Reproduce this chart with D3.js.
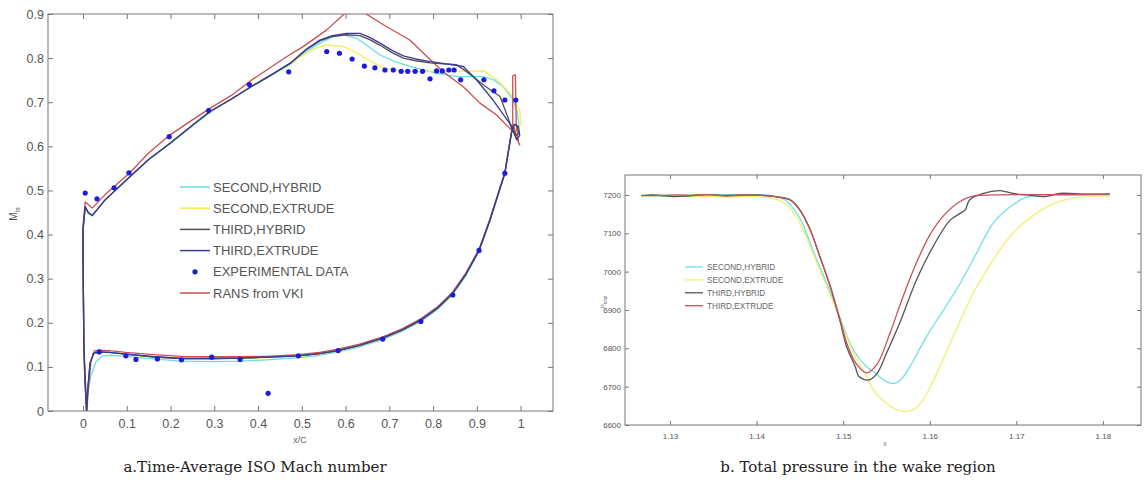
<!DOCTYPE html>
<html>
<head>
<meta charset="utf-8">
<script src="https://cdn.jsdelivr.net/npm/d3@7/dist/d3.min.js"></script>
<style>
  html, body { margin: 0; padding: 0; background: #fff; }
  svg { display: block; }
  .tick text { fill: #555; font-family: "Liberation Sans", Arial, sans-serif; }
  .axis path { display: none; }
  .axis line { stroke: #777; }
</style>
</head>
<body>
<svg id="chart" width="1146" height="485"></svg>
<script>
// ---- chart a: ISO Mach number around the blade (x/C, M_is), each loop pressure side -> LE -> suction side
const leftXTicks = [0, 0.1, 0.2, 0.3, 0.4, 0.5, 0.6, 0.7, 0.8, 0.9, 1];
const leftYTicks = [0, 0.1, 0.2, 0.3, 0.4, 0.5, 0.6, 0.7, 0.8, 0.9];
const leftSeriesNames = ['SECOND,HYBRID', 'SECOND,EXTRUDE', 'THIRD,HYBRID', 'THIRD,EXTRUDE', 'EXPERIMENTAL DATA', 'RANS from VKI'];

const secondHybrid = [
  [0.983,0.645],[0.979,0.630],[0.964,0.539],[0.945,0.478],[0.93,0.431],[0.905,0.362],[0.875,0.307],[0.845,0.264],[0.81,0.230],
  [0.772,0.203],[0.73,0.181],[0.685,0.162],[0.63,0.145],[0.583,0.134],[0.54,0.126],[0.492,0.121],[0.42,0.116],[0.36,0.113],
  [0.30,0.112],[0.225,0.113],[0.16,0.118],[0.098,0.124],[0.06,0.126],[0.045,0.125],[0.03,0.112],[0.018,0.08],[0.011,0.04],
  [0.008,0.0],[0.004,0.08],[0.002,0.15],[0.001,0.25],[0.0,0.35],[0.0,0.41],[0.005,0.460],[0.012,0.448],[0.021,0.443],
  [0.05,0.478],[0.107,0.531],[0.15,0.570],[0.199,0.606],[0.25,0.646],[0.29,0.677],[0.34,0.707],[0.382,0.733],[0.43,0.760],
  [0.473,0.785],[0.51,0.815],[0.541,0.834],[0.57,0.848],[0.595,0.853],[0.625,0.845],[0.65,0.828],[0.679,0.807],[0.71,0.793],
  [0.747,0.781],[0.78,0.773],[0.808,0.766],[0.854,0.758],[0.915,0.758],[0.94,0.750],[0.960,0.735],[0.98,0.710],[0.991,0.683],
  [0.996,0.650],[0.99,0.633],[0.983,0.645]
];
const secondExtrude = [
  [0.983,0.645],[0.979,0.630],[0.964,0.540],[0.945,0.480],[0.93,0.433],[0.905,0.364],[0.875,0.309],[0.845,0.266],[0.81,0.232],
  [0.772,0.205],[0.73,0.183],[0.685,0.164],[0.63,0.147],[0.583,0.136],[0.54,0.129],[0.492,0.124],[0.42,0.121],[0.36,0.119],
  [0.30,0.118],[0.225,0.118],[0.16,0.122],[0.098,0.128],[0.06,0.132],[0.039,0.133],[0.024,0.129],[0.016,0.104],[0.011,0.05],
  [0.008,0.0],[0.004,0.08],[0.002,0.15],[0.001,0.25],[0.0,0.35],[0.0,0.41],[0.005,0.462],[0.012,0.449],[0.021,0.443],
  [0.05,0.478],[0.107,0.531],[0.15,0.570],[0.199,0.607],[0.25,0.647],[0.29,0.678],[0.34,0.707],[0.382,0.733],[0.43,0.761],
  [0.473,0.786],[0.503,0.807],[0.53,0.822],[0.557,0.830],[0.595,0.826],[0.62,0.815],[0.640,0.803],[0.665,0.789],[0.686,0.777],
  [0.72,0.772],[0.747,0.770],[0.846,0.770],[0.915,0.771],[0.945,0.751],[0.976,0.720],[0.998,0.683],[1.0,0.650],[0.99,0.633],
  [0.983,0.645]
];
const thirdHybrid = [
  [0.983,0.645],[0.979,0.630],[0.964,0.539],[0.945,0.480],[0.93,0.433],[0.905,0.364],[0.875,0.310],[0.845,0.267],[0.81,0.233],
  [0.772,0.206],[0.73,0.184],[0.685,0.165],[0.63,0.148],[0.583,0.137],[0.54,0.130],[0.492,0.125],[0.42,0.122],[0.36,0.120],
  [0.30,0.119],[0.225,0.119],[0.16,0.123],[0.098,0.129],[0.06,0.133],[0.039,0.134],[0.024,0.131],[0.016,0.108],[0.011,0.05],
  [0.008,0.0],[0.004,0.08],[0.002,0.15],[0.001,0.25],[0.0,0.35],[0.0,0.41],[0.005,0.463],[0.012,0.450],[0.021,0.443],
  [0.05,0.478],[0.107,0.531],[0.15,0.570],[0.199,0.607],[0.25,0.648],[0.29,0.679],[0.34,0.708],[0.382,0.734],[0.43,0.762],
  [0.473,0.788],[0.51,0.819],[0.541,0.839],[0.57,0.849],[0.602,0.853],[0.633,0.851],[0.655,0.842],[0.679,0.829],[0.705,0.813],
  [0.732,0.800],[0.76,0.794],[0.793,0.789],[0.854,0.785],[0.892,0.758],[0.915,0.739],[0.953,0.713],[0.976,0.652],[0.99,0.625],
  [0.997,0.630],[0.99,0.650],[0.983,0.645]
];
const thirdExtrude = [
  [0.983,0.645],[0.979,0.630],[0.964,0.539],[0.945,0.480],[0.93,0.433],[0.905,0.364],[0.875,0.310],[0.845,0.267],[0.81,0.233],
  [0.772,0.206],[0.73,0.184],[0.685,0.165],[0.63,0.148],[0.583,0.137],[0.54,0.130],[0.492,0.125],[0.42,0.122],[0.36,0.120],
  [0.30,0.119],[0.225,0.119],[0.16,0.123],[0.098,0.129],[0.06,0.133],[0.039,0.134],[0.024,0.131],[0.016,0.108],[0.011,0.05],
  [0.008,0.0],[0.004,0.08],[0.002,0.15],[0.001,0.25],[0.0,0.35],[0.0,0.41],[0.005,0.463],[0.012,0.450],[0.021,0.443],
  [0.05,0.478],[0.107,0.531],[0.15,0.570],[0.199,0.607],[0.25,0.648],[0.29,0.679],[0.34,0.708],[0.382,0.734],[0.43,0.762],
  [0.473,0.788],[0.51,0.820],[0.541,0.841],[0.57,0.851],[0.602,0.856],[0.633,0.856],[0.655,0.847],[0.679,0.834],[0.705,0.818],
  [0.732,0.805],[0.76,0.798],[0.793,0.792],[0.83,0.787],[0.869,0.781],[0.899,0.751],[0.937,0.705],[0.975,0.652],[0.991,0.615],
  [0.998,0.625],[0.995,0.645],[0.986,0.650],[0.983,0.645]
];
const ransVKI = [
  [0.985,0.645],[0.979,0.632],[0.964,0.541],[0.945,0.482],[0.93,0.436],[0.905,0.367],[0.875,0.313],[0.845,0.270],[0.81,0.236],
  [0.772,0.209],[0.73,0.187],[0.685,0.168],[0.63,0.151],[0.583,0.140],[0.54,0.133],[0.492,0.128],[0.42,0.124],[0.36,0.123],
  [0.30,0.123],[0.225,0.124],[0.16,0.128],[0.098,0.133],[0.06,0.137],[0.039,0.138],[0.026,0.136],[0.018,0.112],[0.012,0.05],
  [0.009,0.0],[0.005,0.08],[0.002,0.15],[0.001,0.25],[0.0,0.35],[0.0,0.42],[0.005,0.474],[0.012,0.468],[0.021,0.460],
  [0.05,0.490],[0.107,0.540],[0.15,0.585],[0.199,0.626],[0.25,0.660],[0.29,0.686],[0.34,0.716],[0.382,0.748],[0.43,0.780],
  [0.465,0.803],[0.503,0.826],[0.557,0.864],[0.599,0.902],[0.62,0.912],[0.644,0.902],[0.694,0.871],[0.747,0.841],[0.778,0.811],
  [0.823,0.769],[0.869,0.735],[0.907,0.698],[0.945,0.671],[0.979,0.637],[0.982,0.650],[0.982,0.760],[0.988,0.762],[0.990,0.650],
  [0.995,0.610],[0.998,0.603],[0.99,0.620],[0.985,0.645]
];
const expX = [0.005,0.032,0.071,0.105,0.197,0.287,0.380,0.470,0.557,0.586,0.615,0.643,0.667,0.690,0.709,0.727,0.742,0.759,0.776,
  0.793,0.808,0.821,0.836,0.848,0.863,0.916,0.939,0.964,0.989,
  0.037,0.098,0.121,0.17,0.225,0.294,0.359,0.423,0.492,0.583,0.685,0.772,0.845,0.905,0.964];
const expM = [0.494,0.481,0.506,0.540,0.622,0.681,0.740,0.769,0.815,0.811,0.798,0.782,0.778,0.773,0.773,0.770,0.770,0.770,0.770,
  0.753,0.771,0.771,0.773,0.773,0.751,0.751,0.726,0.705,0.705,
  0.134,0.125,0.117,0.118,0.116,0.122,0.117,0.040,0.125,0.137,0.163,0.203,0.263,0.364,0.539];

// ---- chart b: total pressure in the wake (x, P_tot)
const rightXTicks = [1.13, 1.14, 1.15, 1.16, 1.17, 1.18];
const rightYTicks = [6600, 6700, 6800, 6900, 7000, 7100, 7200];
const rightSeriesNames = ['SECOND,HYBRID', 'SECOND,EXTRUDE', 'THIRD,HYBRID', 'THIRD,EXTRUDE'];

const wakeSecondHybrid = [
  [1.1267,7198],[1.1285,7200],[1.1305,7199],[1.1325,7200],[1.1345,7200],[1.1365,7200],[1.1385,7199],[1.1405,7200],[1.1422,7196],
  [1.1433,7187],[1.1450,7139],[1.1465,7056],[1.1481,6969],[1.1496,6882],[1.1512,6795],[1.1527,6752],[1.1535,6739],[1.1550,6713],
  [1.1558,6708],[1.1566,6717],[1.1577,6752],[1.1596,6830],[1.1616,6900],[1.1635,6969],[1.1654,7048],[1.1673,7126],[1.1693,7169],
  [1.1712,7194],[1.1731,7200],[1.1760,7199],[1.1808,7198]
];
const wakeSecondExtrude = [
  [1.1267,7196],[1.1285,7197],[1.1305,7198],[1.1325,7196],[1.1345,7197],[1.1365,7194],[1.1385,7196],[1.1405,7195],[1.1419,7191],
  [1.1435,7174],[1.1450,7126],[1.1465,7048],[1.1489,6917],[1.1512,6787],[1.1527,6726],[1.1535,6691],[1.1550,6656],[1.1566,6637],
  [1.1581,6640],[1.1592,6665],[1.1608,6734],[1.1627,6830],[1.1650,6943],[1.1673,7030],[1.1696,7100],[1.1723,7152],[1.1750,7183],
  [1.1781,7196],[1.1808,7197]
];
const wakeThirdHybrid = [
  [1.1267,7198],[1.1280,7200],[1.1300,7196],[1.1320,7197],[1.1340,7201],[1.1360,7199],[1.1380,7200],[1.1400,7200],[1.1419,7196],
  [1.1439,7187],[1.1450,7161],[1.1462,7109],[1.1473,7039],[1.1485,6961],[1.1496,6874],[1.1504,6804],[1.1514,6752],[1.1518,6727],
  [1.1529,6717],[1.1539,6734],[1.1550,6787],[1.1566,6870],[1.1585,6980],[1.1604,7066],[1.1623,7133],[1.1635,7152],[1.1641,7161],
  [1.1646,7187],[1.1662,7204],[1.1681,7211],[1.1696,7204],[1.1712,7200],[1.1735,7196],[1.1750,7204],[1.1780,7202],[1.1808,7203]
];
const wakeThirdExtrude = [
  [1.1267,7199],[1.1285,7198],[1.1305,7200],[1.1325,7199],[1.1345,7201],[1.1365,7197],[1.1385,7199],[1.1405,7199],[1.1420,7196],
  [1.1439,7186],[1.1450,7160],[1.1462,7108],[1.1473,7040],[1.1485,6963],[1.1496,6878],[1.1505,6808],[1.1515,6760],[1.1527,6736],
  [1.1539,6758],[1.1554,6839],[1.1569,6934],[1.1585,7025],[1.1600,7095],[1.1616,7146],[1.1635,7183],[1.1650,7197],[1.1673,7200],
  [1.1740,7201],[1.1808,7202]
];

const svg = d3.select('#chart');

function frame(g, x, y, xTicks, yTicks, fmtX, fmtY, fontSize, tick) {
  const [x0, x1] = x.range();
  const [y0, y1] = y.range();
  g.append('g').attr('class', 'axis').attr('transform', `translate(0,${y0})`)
    .call(d3.axisBottom(x).tickValues(xTicks).tickSizeInner(-tick).tickSizeOuter(0).tickPadding(8).tickFormat(fmtX))
    .selectAll('text').style('font-size', fontSize + 'px');
  g.append('g').attr('class', 'axis').attr('transform', `translate(0,${y1})`)
    .call(d3.axisTop(x).tickValues(xTicks).tickSizeInner(-tick).tickSizeOuter(0).tickFormat(''));
  g.append('g').attr('class', 'axis').attr('transform', `translate(${x0},0)`)
    .call(d3.axisLeft(y).tickValues(yTicks).tickSizeInner(-tick).tickSizeOuter(0).tickPadding(4).tickFormat(fmtY))
    .selectAll('text').style('font-size', fontSize + 'px');
  g.append('g').attr('class', 'axis').attr('transform', `translate(${x1},0)`)
    .call(d3.axisRight(y).tickValues(yTicks).tickSizeInner(-tick).tickSizeOuter(0).tickFormat(''));
  g.append('rect').attr('x', x0).attr('y', y1).attr('width', x1 - x0).attr('height', y0 - y1)
    .attr('fill', 'none').attr('stroke', '#777').attr('stroke-width', 1);
}

// ---------- chart a ----------
const xa = d3.scaleLinear().domain([-0.08, 1.074]).range([48, 553]);
const ya = d3.scaleLinear().domain([0, 0.9]).range([411, 14]);
const ga = svg.append('g');
frame(ga, xa, ya, leftXTicks, leftYTicks, d => String(+d.toFixed(1)), d => String(+d.toFixed(1)), 12.5, 5);

svg.append('clipPath').attr('id', 'clipA').append('rect')
  .attr('x', 48).attr('y', 14).attr('width', 505).attr('height', 397);

const colorsA = ['#66dfe6', '#eeee55', '#505050', '#3a3a9a', '#1c1cdc', '#c85050'];
const loopsA = [secondHybrid, secondExtrude, thirdHybrid, thirdExtrude, null, ransVKI];
const lineA = d3.line().x(d => xa(d[0])).y(d => ya(d[1])).curve(d3.curveLinear);
const plotA = ga.append('g').attr('clip-path', 'url(#clipA)');
[0, 1, 5, 2, 3].forEach(i => {
  plotA.append('path').datum(loopsA[i]).attr('d', lineA)
    .attr('fill', 'none').attr('stroke', colorsA[i]).attr('stroke-width', 1.3).attr('stroke-linejoin', 'round');
});
plotA.selectAll('circle.exp').data(d3.range(expX.length)).join('circle')
  .attr('class', 'exp')
  .attr('cx', i => xa(expX[i])).attr('cy', i => ya(expM[i])).attr('r', 2.6)
  .attr('fill', colorsA[4]);

// axis titles
ga.append('text').attr('x', 300).attr('y', 443).attr('text-anchor', 'middle')
  .style('font-family', 'Liberation Sans, Arial, sans-serif').style('font-size', '9px').attr('fill', '#666').text('x/C');
const ylabA = ga.append('text').attr('transform', 'translate(17,214) rotate(-90)').attr('text-anchor', 'middle')
  .style('font-family', 'Liberation Sans, Arial, sans-serif').style('font-size', '10px').attr('fill', '#555');
ylabA.append('tspan').text('M');
ylabA.append('tspan').attr('dy', 3).style('font-size', '7px').text('is');

// legend a
const legA = ga.append('g').attr('transform', 'translate(180,187)');
leftSeriesNames.forEach((name, i) => {
  const row = legA.append('g').attr('transform', `translate(0,${i * 21.2})`);
  if (i === 4) {
    row.append('circle').attr('cx', 15).attr('cy', 0).attr('r', 2.6).attr('fill', colorsA[i]);
  } else {
    row.append('line').attr('x1', 0).attr('x2', 30).attr('stroke', colorsA[i]).attr('stroke-width', 1.5);
  }
  row.append('text').attr('x', 33).attr('y', 4.5)
    .style('font-family', 'Liberation Sans, Arial, sans-serif').style('font-size', '13px').attr('fill', '#555')
    .text(name);
});

// ---------- chart b ----------
const xb = d3.scaleLinear().domain([1.1248, 1.1844]).range([625, 1141]);
const yb = d3.scaleLinear().domain([6600, 7252]).range([425, 175]);
const gb = svg.append('g');
frame(gb, xb, yb, rightXTicks, rightYTicks, d => d.toFixed(2), d => String(d), 8, 4);

const colorsB = ['#72dfe8', '#f0f070', '#555555', '#c8505a'];
const seriesB = [wakeSecondHybrid, wakeSecondExtrude, wakeThirdHybrid, wakeThirdExtrude];
const lineB = d3.line().x(d => xb(d[0])).y(d => yb(d[1])).curve(d3.curveCatmullRom.alpha(0.5));
seriesB.forEach((s, i) => {
  gb.append('path').datum(s).attr('d', lineB)
    .attr('fill', 'none').attr('stroke', colorsB[i]).attr('stroke-width', 1.3);
});

gb.append('text').attr('x', 885).attr('y', 446).attr('text-anchor', 'middle')
  .style('font-family', 'Liberation Sans, Arial, sans-serif').style('font-size', '7px').attr('fill', '#777').text('x');
const ylabB = gb.append('text').attr('transform', 'translate(605,302) rotate(-90)').attr('text-anchor', 'middle')
  .style('font-family', 'Liberation Sans, Arial, sans-serif').style('font-size', '6px').attr('fill', '#777');
ylabB.append('tspan').text('P');
ylabB.append('tspan').attr('dy', 2).style('font-size', '4.5px').text('total');

const legB = gb.append('g').attr('transform', 'translate(685,267)');
rightSeriesNames.forEach((name, i) => {
  const row = legB.append('g').attr('transform', `translate(0,${i * 12.9})`);
  row.append('line').attr('x1', 0).attr('x2', 18).attr('stroke', colorsB[i]).attr('stroke-width', 1.3);
  row.append('text').attr('x', 22).attr('y', 3)
    .style('font-family', 'Liberation Sans, Arial, sans-serif').style('font-size', '8.2px').attr('fill', '#666')
    .text(name);
});

// ---------- captions ----------
svg.append('text').attr('x', 255).attr('y', 472).attr('text-anchor', 'middle')
  .style('font-family', '"DejaVu Serif", serif').style('font-size', '15px').attr('fill', '#222')
  .text('a.Time-Average ISO Mach number');
svg.append('text').attr('x', 858).attr('y', 472).attr('text-anchor', 'middle')
  .style('font-family', '"DejaVu Serif", serif').style('font-size', '15px').attr('fill', '#222')
  .text('b. Total pressure in the wake region');
</script>
</body>
</html>
